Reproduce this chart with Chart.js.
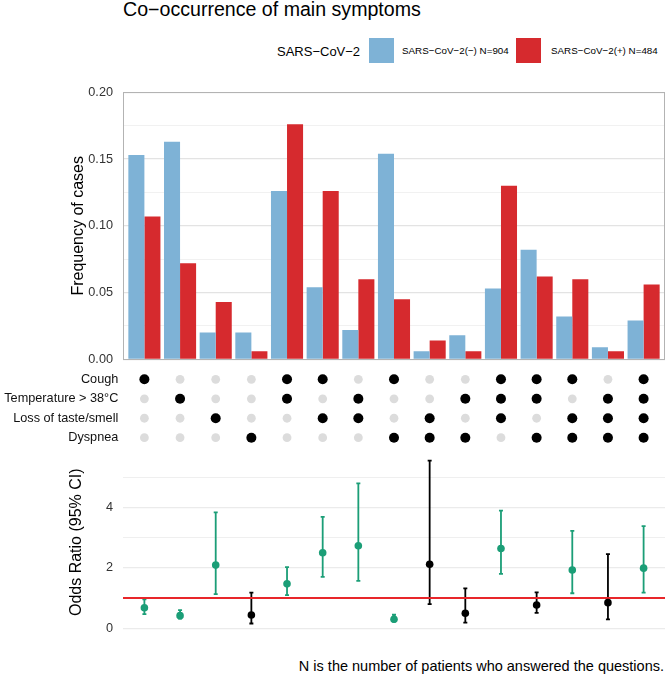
<!DOCTYPE html>
<html><head><meta charset="utf-8">
<script src="https://cdn.jsdelivr.net/npm/chart.js@4"></script>
<style>
html,body{margin:0;padding:0;background:#fff;}
#wrap{position:relative;width:669px;height:679px;overflow:hidden;font-family:'Liberation Sans',Arial,sans-serif;color:#000;background:#fff;}
canvas{position:absolute;left:0;}
.t{position:absolute;white-space:nowrap;line-height:1;}
.key{position:absolute;width:25px;height:25px;}
</style></head><body>
<div id="wrap">
<div class="t" style="left:123px;top:0px;font-size:19.6px">Co−occurrence of main symptoms</div>
<div class="t" style="left:277px;top:44.5px;font-size:13px">SARS−CoV−2</div>
<div id="legend"></div>
<canvas id="bars" width="669" height="290" style="top:80px"></canvas>
<canvas id="matrix" width="669" height="100" style="top:360px"></canvas>
<canvas id="odds" width="669" height="200" style="top:445px"></canvas>
<div class="t" style="right:5px;top:658.7px;font-size:14.5px">N is the number of patients who answered the questions.</div>
</div>
<script>
// ---- data ----
const categories = ['C','T','L','D','C+T','C+L','T+L','C+D','L+D','T+D','C+T+L','C+T+D','C+L+D','T+L+D','C+T+L+D'];
const seriesNames = ['SARS−CoV−2(−) N=904', 'SARS−CoV−2(+) N=484'];
const negFreq = [0.153,0.163,0.020,0.020,0.126,0.054,0.022,0.154,0.006,0.018,0.053,0.082,0.032,0.009,0.029];
const posFreq = [0.107,0.072,0.043,0.006,0.176,0.126,0.060,0.045,0.014,0.006,0.130,0.062,0.060,0.006,0.056];
const symptoms = ['Cough','Temperature > 38°C','Loss of taste/smell','Dyspnea'];
const hasCough = [1,0,0,0,1,1,0,1,0,0,1,1,1,0,1];
const hasTemp  = [0,1,0,0,1,0,1,0,0,1,1,1,0,1,1];
const hasLoss  = [0,0,1,0,0,1,1,0,1,0,1,0,1,1,1];
const hasDysp  = [0,0,0,1,0,0,0,1,1,1,0,1,1,1,1];
const oddsRatio = [0.68,0.42,2.09,0.44,1.47,2.50,2.73,0.30,2.12,0.50,2.64,0.77,1.93,0.85,1.99];
const ciLow     = [0.47,0.32,1.13,0.16,1.10,1.70,1.57,0.22,0.80,0.19,1.80,0.51,1.16,0.30,1.18];
const ciHigh    = [0.96,0.60,3.83,1.18,2.02,3.68,4.79,0.45,5.54,1.32,3.89,1.19,3.22,2.45,3.38];
const freqTicks = [0,0.025,0.05,0.075,0.1,0.125,0.15,0.175,0.2];
const oddsTicks = [0,1,2,3,4,5];

// ---- styles ----
const seriesColors = ['#7eb2d6','#d62a2e'];
const sigColor = '#1b9e77', nsColor = '#000000', refColor = '#e8262a';
const FONT = "'Liberation Sans', Arial, sans-serif";
Chart.defaults.font.family = FONT;

// legend (html)
const lg = document.getElementById('legend');
const keyLeft = [369, 516], labLeft = [402, 551];
seriesNames.forEach((n,i)=>{
  const k = document.createElement('div'); k.className='key';
  k.style.left = keyLeft[i]+'px'; k.style.top='38px'; k.style.background = seriesColors[i];
  lg.appendChild(k);
  const t = document.createElement('div'); t.className='t';
  t.style.left = labLeft[i]+'px'; t.style.top='46.4px'; t.style.fontSize='9.8px'; t.textContent = n;
  lg.appendChild(t);
});

const xScale = () => ({type:'linear', min:-0.6, max:14.6, display:false, offset:false});
const fixW = s => { s.width = 123; s.paddingTop = 0; s.paddingBottom = 0; s.paddingLeft = 0; s.paddingRight = 0; };

const panelBorder = {id:'panelBorder', afterDatasetsDraw(chart){
  const {ctx, chartArea:a} = chart;
  ctx.save(); ctx.strokeStyle='#b3b3b3'; ctx.lineWidth=1;
  ctx.strokeRect(Math.round(a.left)+0.5, Math.round(a.top)+0.5, Math.round(a.right-a.left)-1, Math.round(a.bottom-a.top));
  ctx.restore();
}};

// ---- bars ----
new Chart(document.getElementById('bars'), {
  type:'bar',
  data:{datasets:[negFreq, posFreq].map((arr,k)=>({
    label: seriesNames[k],
    data: arr.map((v,i)=>({x:i, y:v})),
    backgroundColor: seriesColors[k], borderWidth:0,
    categoryPercentage:0.9, barPercentage:1.0
  }))},
  options:{
    responsive:false, animation:false, devicePixelRatio:1,
    layout:{autoPadding:false, padding:{left:0,right:4,top:12.3,bottom:10.7}},
    plugins:{legend:{display:false}, tooltip:{enabled:false}},
    scales:{
      x: xScale(),
      y:{min:0, max:0.2, afterFit:fixW,
        afterBuildTicks:s=>{ s.ticks = freqTicks.map(v=>({value:v})); },
        ticks:{autoSkip:false, padding:10, color:'#333', font:{size:12.7},
          callback:v=> (Math.abs(v*20-Math.round(v*20))<1e-6) ? v.toFixed(2) : ''},
        grid:{drawTicks:false,
          color:c=> (Math.abs(c.tick.value*20-Math.round(c.tick.value*20))<1e-6) ? '#e3e3e3' : '#efefef',
          lineWidth:c=> (Math.abs(c.tick.value*20-Math.round(c.tick.value*20))<1e-6) ? 1.2 : 0.9},
        border:{display:false},
        title:{display:true, text:'Frequency of cases', color:'#000', font:{size:16}, padding:{top:68.7,bottom:0}}
      }
    }
  },
  plugins:[panelBorder]
});

// ---- matrix ----
const rows = [hasCough, hasTemp, hasLoss, hasDysp];
const presentPts = [], absentPts = [];
rows.forEach((r,ri)=>r.forEach((f,ci)=>(f ? presentPts : absentPts).push({x:ci, y:ri})));
new Chart(document.getElementById('matrix'), {
  type:'scatter',
  data:{datasets:[
    {data:absentPts, pointRadius:4.4, pointBackgroundColor:'#dcdcdc', pointBorderWidth:0},
    {data:presentPts, pointRadius:5, pointBackgroundColor:'#000', pointBorderWidth:0}
  ]},
  options:{
    responsive:false, animation:false, devicePixelRatio:1,
    layout:{autoPadding:false, padding:{left:0,right:4,top:9.6,bottom:12.6}},
    plugins:{legend:{display:false}, tooltip:{enabled:false}},
    scales:{
      x: xScale(),
      y:{type:'linear', min:-0.5, max:3.5, reverse:true, afterFit:fixW,
        afterBuildTicks:s=>{ s.ticks = symptoms.map((_,i)=>({value:i})); },
        ticks:{autoSkip:false, padding:4.7, color:'#111', font:{size:12.7}, callback:v=>symptoms[v]},
        grid:{display:false, drawTicks:false}, border:{display:false}
      }
    }
  }
});

// ---- odds ratio ----
const isSig = i => ciLow[i] > 1 || ciHigh[i] < 1;
const errorBars = {id:'errorBars', beforeDatasetsDraw(chart){
  const {ctx, scales:{x, y}} = chart;
  ctx.save(); ctx.lineWidth = 1.8; ctx.lineCap='butt';
  oddsRatio.forEach((v,i)=>{
    const px = x.getPixelForValue(i), y1 = y.getPixelForValue(ciLow[i]), y2 = y.getPixelForValue(ciHigh[i]);
    ctx.strokeStyle = isSig(i) ? sigColor : nsColor;
    ctx.beginPath();
    ctx.moveTo(px, y1); ctx.lineTo(px, y2);
    ctx.moveTo(px-2, y1); ctx.lineTo(px+2, y1);
    ctx.moveTo(px-2, y2); ctx.lineTo(px+2, y2);
    ctx.stroke();
  });
  ctx.restore();
}};
new Chart(document.getElementById('odds'), {
  type:'scatter',
  data:{datasets:[
    {type:'line', data:[{x:-0.6,y:1},{x:14.6,y:1}], borderColor:refColor, borderWidth:2, pointRadius:0, order:2},
    {data:oddsRatio.map((v,i)=>({x:i, y:v})), pointRadius:3.8, pointBorderWidth:0,
     pointBackgroundColor:oddsRatio.map((v,i)=> isSig(i) ? sigColor : nsColor), order:1}
  ]},
  options:{
    responsive:false, animation:false, devicePixelRatio:1,
    layout:{autoPadding:false, padding:{left:0,right:4,top:7.5,bottom:13}},
    plugins:{legend:{display:false}, tooltip:{enabled:false}},
    scales:{
      x: xScale(),
      y:{type:'linear', min:-0.12, max:5.81, afterFit:fixW,
        afterBuildTicks:s=>{ s.ticks = oddsTicks.map(v=>({value:v})); },
        ticks:{autoSkip:false, padding:10, color:'#333', font:{size:12.7}, callback:v=> v%2===0 ? String(v) : ''},
        grid:{drawTicks:false, color:'#ebebeb', lineWidth:c=> c.tick.value%2===0 ? 1.2 : 0.8},
        border:{display:false},
        title:{display:true, text:'Odds Ratio (95% CI)', color:'#000', font:{size:16}, padding:{top:67.1,bottom:0}}
      }
    }
  },
  plugins:[errorBars]
});
</script>
</body></html>
